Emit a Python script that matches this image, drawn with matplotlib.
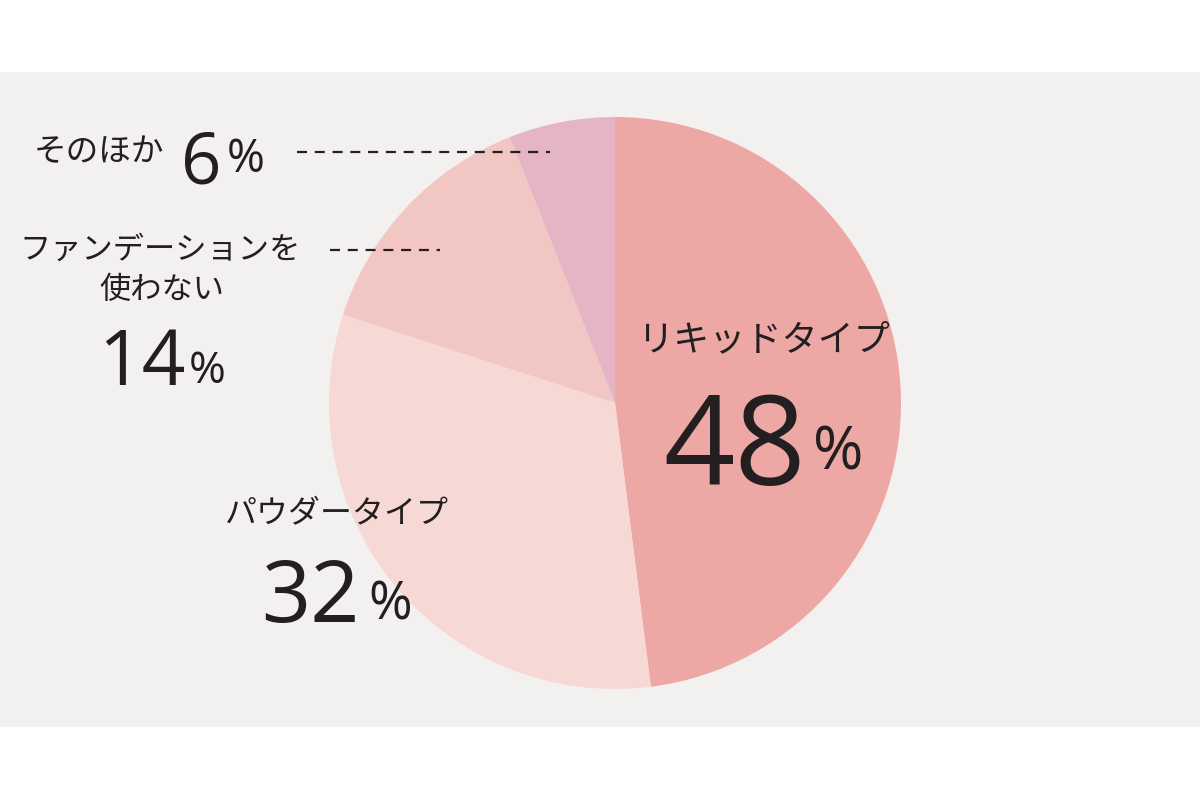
import matplotlib
matplotlib.use("Agg")
import matplotlib.pyplot as plt
from matplotlib.patches import Rectangle

categories = ["リキッドタイプ", "パウダータイプ", "ファンデーションを\n使わない", "そのほか"]
values = [48, 32, 14, 6]
colors = ["#EDA8A6", "#F6D8D5", "#F2C7C3", "#E5B5C6"]

JP = ["Noto Sans CJK JP", "DejaVu Sans"]
NUM = ["Open Sans", "Noto Sans CJK JP", "DejaVu Sans"]
TXT = "#231F20"
JW = "normal"
NW = "medium"

fig = plt.figure(figsize=(12, 8), dpi=100)
fig.patch.set_facecolor("white")
ax = fig.add_axes([0, 0, 1, 1])

ax.add_patch(Rectangle((0, 73), 1200, 655, facecolor="#F3F1F0", edgecolor="none", zorder=0))

ax.pie(values, colors=colors, startangle=90, counterclock=False,
       center=(615, 397), radius=286, wedgeprops=dict(linewidth=0), frame=True)
ax.set_xlim(0, 1200)
ax.set_ylim(0, 800)
ax.set_aspect("equal")
ax.axis("off")

# liquid
ax.text(764, 460, categories[0], family=JP, fontsize=26, weight=JW, color=TXT, ha="center", va="center")
ax.text(806, 315, f"{values[0]}", family=NUM, fontsize=90, weight=NW, color=TXT, ha="right", va="baseline")
ax.text(813, 330, "%", family=NUM, fontsize=44, weight=NW, color=TXT, ha="left", va="baseline")

# powder
ax.text(337, 286, categories[1], family=JP, fontsize=23, weight=JW, color=TXT, ha="center", va="center")
ax.text(360, 178, f"{values[1]}", family=NUM, fontsize=62, weight=NW, color=TXT, ha="right", va="baseline")
ax.text(368, 180, "%", family=NUM, fontsize=38, weight=NW, color=TXT, ha="left", va="baseline")

# no foundation
ax.text(160, 550, "ファンデーションを", family=JP, fontsize=22.5, weight=JW, color=TXT, ha="center", va="center")
ax.text(162, 510, "使わない", family=JP, fontsize=22.5, weight=JW, color=TXT, ha="center", va="center")
ax.text(186, 415, f"{values[2]}", family=NUM, fontsize=55, weight=NW, color=TXT, ha="right", va="baseline")
ax.text(189, 417, "%", family=NUM, fontsize=32, weight=NW, color=TXT, ha="left", va="baseline")

# other
ax.text(34, 648, categories[3], family=JP, fontsize=23.5, weight=JW, color=TXT, ha="left", va="center")
ax.text(181, 617, f"{values[3]}", family=NUM, fontsize=51, weight=NW, color=TXT, ha="left", va="baseline")
ax.text(227, 628, "%", family=NUM, fontsize=33, weight=NW, color=TXT, ha="left", va="baseline")

# leader lines
ax.plot([297, 550], [648, 648], color="#231F20", lw=1.6, ls=(0, (4.5, 3.5)), zorder=5)
ax.plot([330, 440], [550, 550], color="#231F20", lw=1.6, ls=(0, (4.5, 3.5)), zorder=5)

fig.savefig("out.png", dpi=100, facecolor="white")
